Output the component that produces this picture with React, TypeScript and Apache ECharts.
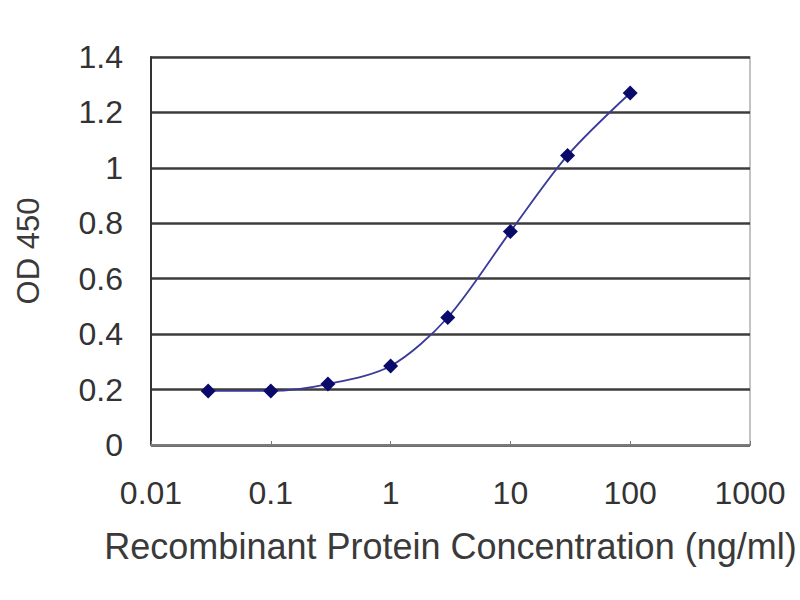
import React, { useEffect, useRef } from "react";
import * as echarts from "echarts";

const concentrations = [0.03, 0.1, 0.3, 1, 3, 10, 30, 100];
const odValues = [0.195, 0.195, 0.22, 0.285, 0.46, 0.77, 1.045, 1.27];
const xTickLabels = ["0.01", "0.1", "1", "10", "100", "1000"];

export default function App() {
  const ref = useRef<HTMLDivElement>(null);
  useEffect(() => {
    if (!ref.current) return;
    const chart = echarts.init(ref.current, null, { renderer: "svg" });
    const font = "'Liberation Sans', Arial, sans-serif";
    chart.setOption({
      animation: false,
      backgroundColor: "#ffffff",
      grid: {
        left: 151,
        right: 50,
        top: 57,
        bottom: 155,
        show: true,
        borderColor: "#b0b0b0",
        borderWidth: 1.5,
      },
      xAxis: {
        type: "log",
        logBase: 10,
        min: 0.01,
        max: 1000,
        name: "Recombinant Protein Concentration (ng/ml)",
        nameLocation: "middle",
        nameGap: 83,
        nameTextStyle: { fontFamily: font, fontSize: 36, color: "#3a3a3a" },
        axisLine: { lineStyle: { color: "#7a7a7a", width: 2 } },
        axisTick: { show: true, inside: true, length: 4, lineStyle: { color: "#7a7a7a" } },
        splitLine: { show: false },
        minorTick: { show: false },
        axisLabel: {
          margin: 32,
          fontFamily: font,
          fontSize: 32,
          color: "#333333",
          formatter: (v: number) => {
            const idx = Math.round(Math.log10(v)) + 2;
            return xTickLabels[idx] ?? String(v);
          },
        },
      },
      yAxis: {
        type: "value",
        min: 0,
        max: 1.4,
        interval: 0.2,
        name: "OD 450",
        nameLocation: "middle",
        nameGap: 107,
        nameTextStyle: { fontFamily: font, fontSize: 31, color: "#3a3a3a" },
        axisLine: { show: true, lineStyle: { color: "#333333", width: 2 } },
        axisTick: { show: false },
        splitLine: { show: true, lineStyle: { color: "#3c3c3c", width: 2.5 } },
        axisLabel: {
          margin: 28,
          fontFamily: font,
          fontSize: 32,
          color: "#333333",
          formatter: (v: number) => String(Math.round(v * 10) / 10),
        },
      },
      series: [
        {
          type: "line",
          data: concentrations.map((c, i) => [c, odValues[i]]),
          smooth: 0.3,
          symbol: "diamond",
          symbolSize: 15,
          lineStyle: { color: "#3a3a9a", width: 1.8 },
          itemStyle: { color: "#0a0a6a" },
        },
      ],
    });
    return () => chart.dispose();
  }, []);
  return (
    <div
      ref={ref}
      style={{ position: "absolute", left: 0, top: 0, width: 800, height: 600 }}
    />
  );
}
